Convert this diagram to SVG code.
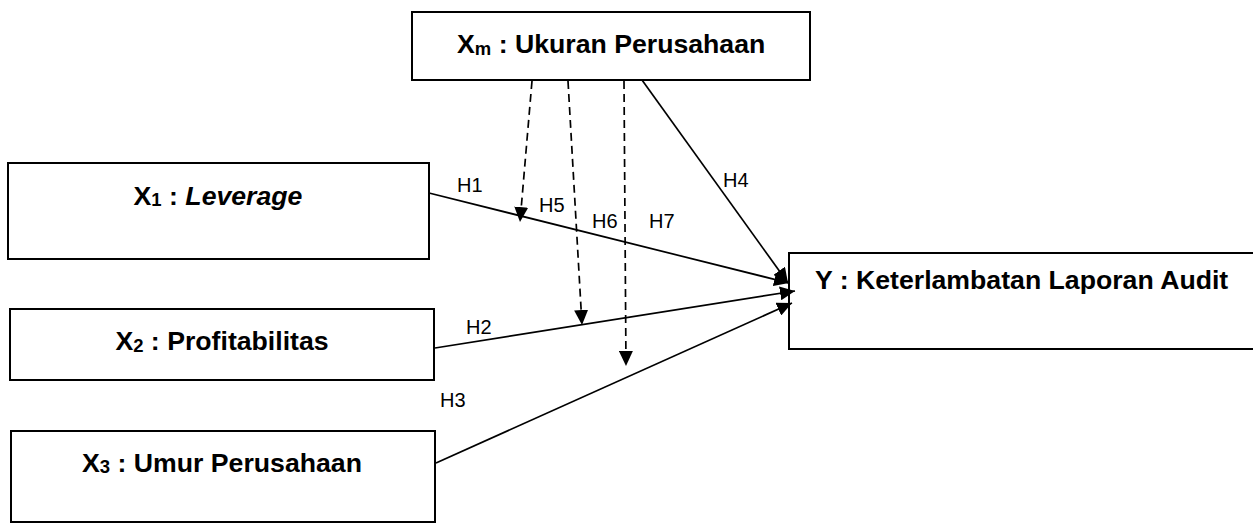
<svg xmlns="http://www.w3.org/2000/svg" width="1253" height="524" viewBox="0 0 1253 524">
<style>
.box{fill:#fff;stroke:#000;stroke-width:2}
.t{font-family:"Liberation Sans",Arial,sans-serif;font-weight:bold;font-size:26.67px;fill:#000}
.sub{font-size:18.5px}
.lbl{font-family:"Liberation Sans",Arial,sans-serif;font-size:20px;fill:#000}
.ln{stroke:#000;stroke-width:1.7;fill:none}
.dash{stroke-dasharray:8 5}
</style>
<defs>
<marker id="ah" markerUnits="userSpaceOnUse" markerWidth="15" markerHeight="14" refX="15" refY="7" orient="auto">
<path d="M0,0 L15,7 L0,14 z" fill="#000"/>
</marker>
</defs>
<rect width="1253" height="524" fill="#fff"/>
<g id="node-xm">
<rect class="box" x="412" y="12" width="398" height="68"/>
<text class="t" x="457" y="53">X<tspan class="sub" dy="2">m</tspan><tspan dy="-2"> : Ukuran Perusahaan</tspan></text>
</g>
<g id="node-x1">
<rect class="box" x="8" y="163" width="421" height="96"/>
<text class="t" x="218" y="205" text-anchor="middle">X<tspan class="sub" dy="1">1</tspan><tspan dy="-1"> : </tspan><tspan font-style="italic">Leverage</tspan></text>
</g>
<g id="node-x2">
<rect class="box" x="10" y="309" width="424" height="71"/>
<text class="t" x="222" y="350" text-anchor="middle">X<tspan class="sub" dy="2">2</tspan><tspan dy="-2"> : Profitabilitas</tspan></text>
</g>
<g id="node-x3">
<rect class="box" x="11" y="431" width="424" height="91"/>
<text class="t" x="222" y="472" text-anchor="middle">X<tspan class="sub" dy="1">3</tspan><tspan dy="-1"> : Umur Perusahaan</tspan></text>
</g>
<g id="node-y">
<rect class="box" x="789" y="253" width="480" height="96"/>
<text class="t" x="815" y="289">Y : Keterlambatan Laporan Audit</text>
</g>
<g id="connectors">
<line class="ln" x1="429" y1="193" x2="789" y2="283" marker-end="url(#ah)"/>
<line class="ln" x1="435" y1="348" x2="795" y2="291" marker-end="url(#ah)"/>
<line class="ln" x1="436" y1="463" x2="792" y2="303" marker-end="url(#ah)"/>
<line class="ln" x1="642" y1="80" x2="788" y2="283" marker-end="url(#ah)"/>
<line class="ln dash" x1="532" y1="81" x2="520" y2="222" marker-end="url(#ah)"/>
<line class="ln dash" x1="568" y1="81" x2="582" y2="325" marker-end="url(#ah)"/>
<line class="ln dash" x1="624" y1="81" x2="626" y2="366" marker-end="url(#ah)"/>
<text class="lbl" x="457" y="192">H1</text>
<text class="lbl" x="539" y="212">H5</text>
<text class="lbl" x="592" y="228">H6</text>
<text class="lbl" x="649" y="228">H7</text>
<text class="lbl" x="723" y="187">H4</text>
<text class="lbl" x="466" y="334">H2</text>
<text class="lbl" x="440" y="407">H3</text>
</g>
</svg>
